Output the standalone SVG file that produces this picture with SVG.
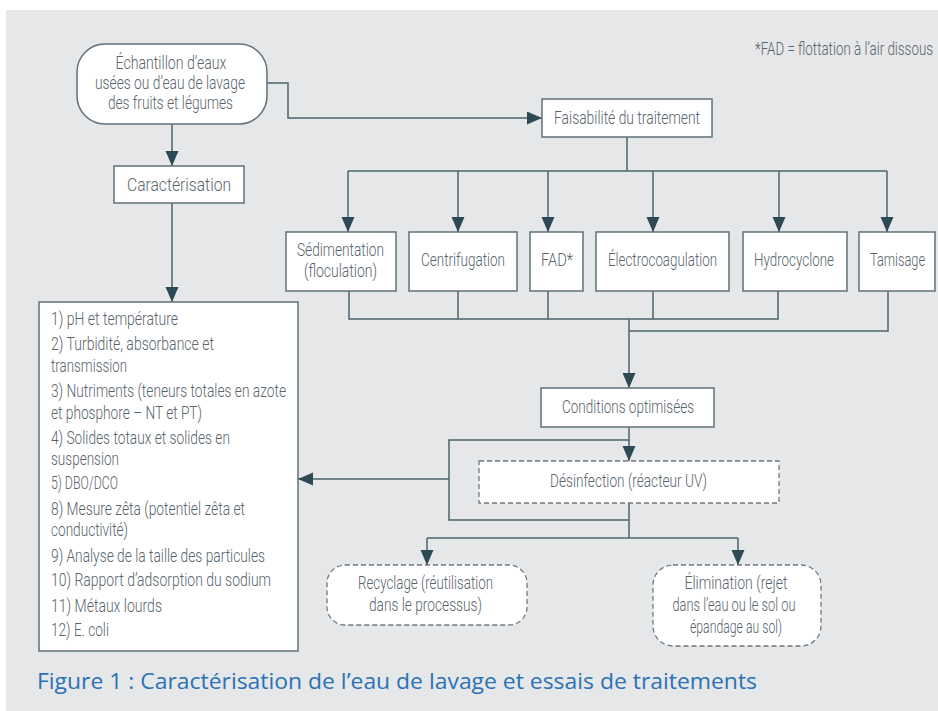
<svg xmlns="http://www.w3.org/2000/svg" width="938" height="711" viewBox="0 0 938 711">
<defs>
<style>
.bg{fill:#e6e7e9}
.box{fill:#ffffff;stroke:#5f7179;stroke-width:1.5}
.dash{fill:#ffffff;stroke:#6f7a80;stroke-width:1.3;stroke-dasharray:5 3}
.t{font-family:Roboto,"DejaVu Sans Condensed","Liberation Sans",sans-serif;font-weight:300;font-size:18px;fill:#58646c}
.c{text-anchor:middle}
.ln{fill:none;stroke:#4b636c;stroke-width:1.5}
.cap{font-family:"Open Sans","Liberation Sans",sans-serif;font-size:21px;fill:#2a72b5}
</style>
<marker id="ah" markerUnits="userSpaceOnUse" markerWidth="16" markerHeight="14" refX="15" refY="6.5" orient="auto">
<path d="M0,0 L15,6.5 L0,13 z" fill="#2d4953"/>
</marker>
</defs>
<rect x="6" y="10" width="932" height="701" class="bg"/>
<text x="933" y="55" class="t" text-anchor="end" font-size="17" textLength="178" lengthAdjust="spacingAndGlyphs">*FAD = flottation à l’air dissous</text>

<g id="connectors">
<path class="ln" d="M172,124 V166" marker-end="url(#ah)"/>
<path class="ln" d="M267,83 H288 V118 H542" marker-end="url(#ah)"/>
<path class="ln" d="M172,203 V302" marker-end="url(#ah)"/>
<path class="ln" d="M627,137 V171"/>
<path class="ln" d="M348,171 H887"/>
<path class="ln" d="M348,171 V232" marker-end="url(#ah)"/>
<path class="ln" d="M458,171 V232" marker-end="url(#ah)"/>
<path class="ln" d="M548,171 V232" marker-end="url(#ah)"/>
<path class="ln" d="M653,171 V232" marker-end="url(#ah)"/>
<path class="ln" d="M779,171 V232" marker-end="url(#ah)"/>
<path class="ln" d="M887,171 V232" marker-end="url(#ah)"/>
<path class="ln" d="M349,291 V319 H778 V291"/>
<path class="ln" d="M458,291 V319"/>
<path class="ln" d="M548,291 V319"/>
<path class="ln" d="M653,291 V319"/>
<path class="ln" d="M888,291 V331 H629"/>
<path class="ln" d="M629,319 V388" marker-end="url(#ah)"/>
<path class="ln" d="M629,427 V461" marker-end="url(#ah)"/>
<path class="ln" d="M629,440 H449 V520 H629"/>
<path class="ln" d="M449,479 H298" marker-end="url(#ah)"/>
<path class="ln" d="M629,503 V538"/>
<path class="ln" d="M427,538 H738"/>
<path class="ln" d="M427,538 V565" marker-end="url(#ah)"/>
<path class="ln" d="M738,538 V565" marker-end="url(#ah)"/>
</g>

<g id="echantillon">
<rect x="77" y="44" width="190" height="80" rx="28" class="box"/>
<text class="t c" x="171" y="69" textLength="111" lengthAdjust="spacingAndGlyphs">Échantillon d’eaux</text>
<text class="t c" x="170" y="89" textLength="150" lengthAdjust="spacingAndGlyphs">usées ou d’eau de lavage</text>
<text class="t c" x="170.5" y="109" textLength="125" lengthAdjust="spacingAndGlyphs">des fruits et légumes</text>
</g>
<g id="caracterisation">
<rect x="114" y="166" width="130" height="37" class="box"/>
<text class="t c" x="179" y="191" textLength="104" lengthAdjust="spacingAndGlyphs">Caractérisation</text>
</g>
<g id="faisabilite">
<rect x="542" y="99" width="170" height="38" class="box"/>
<text class="t c" x="627" y="124" textLength="146" lengthAdjust="spacingAndGlyphs">Faisabilité du traitement</text>
</g>
<g id="sedimentation">
<rect x="286" y="232" width="110" height="59" class="box"/>
<text class="t c" x="340.5" y="256" textLength="87" lengthAdjust="spacingAndGlyphs">Sédimentation</text>
<text class="t c" x="340.5" y="277" textLength="73" lengthAdjust="spacingAndGlyphs">(floculation)</text>
</g>
<g id="centrifugation">
<rect x="409" y="232" width="108" height="59" class="box"/>
<text class="t c" x="463" y="266" textLength="84" lengthAdjust="spacingAndGlyphs">Centrifugation</text>
</g>
<g id="fad">
<rect x="530" y="232" width="53" height="59" class="box"/>
<text class="t c" x="557" y="266" textLength="32" lengthAdjust="spacingAndGlyphs">FAD*</text>
</g>
<g id="electrocoagulation">
<rect x="596" y="232" width="133" height="59" class="box"/>
<text class="t c" x="662.5" y="266" textLength="109" lengthAdjust="spacingAndGlyphs">Électrocoagulation</text>
</g>
<g id="hydrocyclone">
<rect x="743" y="232" width="104" height="59" class="box"/>
<text class="t c" x="794" y="266" textLength="80" lengthAdjust="spacingAndGlyphs">Hydrocyclone</text>
</g>
<g id="tamisage">
<rect x="859" y="232" width="76" height="59" class="box"/>
<text class="t c" x="897.5" y="266" textLength="55" lengthAdjust="spacingAndGlyphs">Tamisage</text>
</g>
<g id="conditions">
<rect x="541" y="388" width="173" height="39" class="box"/>
<text class="t c" x="628" y="413" textLength="132" lengthAdjust="spacingAndGlyphs">Conditions optimisées</text>
</g>
<g id="desinfection">
<rect x="479" y="461" width="300" height="42" class="dash"/>
<text class="t c" x="628.5" y="487" textLength="157" lengthAdjust="spacingAndGlyphs">Désinfection (réacteur UV)</text>
</g>
<g id="recyclage">
<rect x="327" y="565" width="200" height="60" rx="18" class="dash"/>
<text class="t c" x="425.5" y="589" textLength="135" lengthAdjust="spacingAndGlyphs">Recyclage (réutilisation</text>
<text class="t c" x="425.5" y="611" textLength="113" lengthAdjust="spacingAndGlyphs">dans le processus)</text>
</g>
<g id="elimination">
<rect x="653" y="565" width="168" height="81" rx="20" class="dash"/>
<text class="t c" x="736" y="589" textLength="103" lengthAdjust="spacingAndGlyphs">Élimination (rejet</text>
<text class="t c" x="734" y="611" textLength="123" lengthAdjust="spacingAndGlyphs">dans l’eau ou le sol ou</text>
<text class="t c" x="736" y="633" textLength="92" lengthAdjust="spacingAndGlyphs">épandage au sol)</text>
</g>
<g id="liste">
<rect x="39" y="302" width="259" height="349" class="box"/>
<text class="t" x="51" y="325" textLength="127" lengthAdjust="spacingAndGlyphs">1) pH et température</text>
<text class="t" x="51" y="350" textLength="163" lengthAdjust="spacingAndGlyphs">2) Turbidité, absorbance et</text>
<text class="t" x="51" y="372" textLength="76" lengthAdjust="spacingAndGlyphs">transmission</text>
<text class="t" x="51" y="397" textLength="235" lengthAdjust="spacingAndGlyphs">3) Nutriments (teneurs totales en azote</text>
<text class="t" x="51" y="419" textLength="151" lengthAdjust="spacingAndGlyphs">et phosphore – NT et PT)</text>
<text class="t" x="51" y="444" textLength="179" lengthAdjust="spacingAndGlyphs">4) Solides totaux et solides en</text>
<text class="t" x="51" y="465" textLength="68" lengthAdjust="spacingAndGlyphs">suspension</text>
<text class="t" x="51" y="489" textLength="67" lengthAdjust="spacingAndGlyphs">5) DBO/DCO</text>
<text class="t" x="51" y="515" textLength="194" lengthAdjust="spacingAndGlyphs">8) Mesure zêta (potentiel zêta et</text>
<text class="t" x="51" y="536" textLength="77" lengthAdjust="spacingAndGlyphs">conductivité)</text>
<text class="t" x="51" y="562" textLength="214" lengthAdjust="spacingAndGlyphs">9) Analyse de la taille des particules</text>
<text class="t" x="51" y="586" textLength="220" lengthAdjust="spacingAndGlyphs">10) Rapport d’adsorption du sodium</text>
<text class="t" x="51" y="612" textLength="111" lengthAdjust="spacingAndGlyphs">11) Métaux lourds</text>
<text class="t" x="51" y="636" textLength="58" lengthAdjust="spacingAndGlyphs">12) E. coli</text>
</g>
<text class="cap" x="37" y="689" textLength="720" lengthAdjust="spacingAndGlyphs">Figure 1 : Caractérisation de l’eau de lavage et essais de traitements</text>
</svg>
